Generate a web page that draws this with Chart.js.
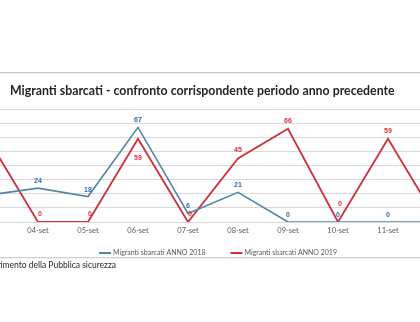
<!DOCTYPE html>
<html>
<head>
<meta charset="utf-8">
<script src="https://cdn.jsdelivr.net/npm/chart.js@4/dist/chart.umd.min.js"></script>
<style>
  html, body { margin:0; padding:0; background:#ffffff; overflow:hidden; width:420px; height:322px; }
  #wrap { position:absolute; left:-37px; top:0; width:500px; height:322px; }
</style>
</head>
<body>
<div id="wrap"><canvas id="c" width="500" height="322"></canvas></div>
<script>
const categories = ['03-set','04-set','05-set','06-set','07-set','08-set','09-set','10-set','11-set','12-set'];
const anno2018 = [19, 24, 18, 67, 6, 21, 0, 0, 0, 0];
const anno2019 = [59, 0, 0, 59, 0, 45, 66, 0, 59, 0];
const yTicks = { min: 0, max: 80, step: 10 };
const titleText = 'Migranti sbarcati - confronto corrispondente periodo anno precedente';
const sourceText = 'Dipartimento della Pubblica sicurezza';
const seriesNames = ['Migranti sbarcati ANNO 2018', 'Migranti sbarcati ANNO 2019'];

const BLUE = '#4f86a8';
const RED = '#d12e3b';
const OFF = 37; // page x -> canvas x offset

const decor = {
  id: 'decor',
  beforeDraw(chart) {
    const ctx = chart.ctx;
    ctx.save();
    ctx.fillStyle = '#ffffff';
    ctx.fillRect(0, 0, chart.width, chart.height);
    ctx.fillStyle = '#c9c9c9';
    ctx.fillRect(0, 72, chart.width, 1);
    ctx.fillStyle = '#ececec';
    ctx.fillRect(0, 73, chart.width, 1);
    ctx.fillStyle = '#d2d2d2';
    ctx.fillRect(0, 257, chart.width, 1);
    ctx.fillStyle = '#efefef';
    ctx.fillRect(0, 258, chart.width, 1);
    ctx.restore();
  },
  afterDraw(chart) {
    const ctx = chart.ctx;
    ctx.save();
    ctx.fillStyle = '#262626';
    ctx.textBaseline = 'middle';
    ctx.textAlign = 'left';
    ctx.font = 'bold 13px Lato';
    const w13 = ctx.measureText(titleText).width;
    const size = 13 * 385 / w13;
    ctx.font = 'bold ' + size.toFixed(2) + 'px Lato';
    ctx.fillText(titleText, 10 + OFF, 91);

    ctx.font = '7px Lato';
    const t1 = ctx.measureText(seriesNames[0]).width;
    const t2 = ctx.measureText(seriesNames[1]).width;
    const lineW = 12, gap = 2, sep = 25;
    const total = lineW + gap + t1 + sep + lineW + gap + t2;
    let x = 218 + OFF - total / 2;
    const ly = 253;
    const cols = [BLUE, RED];
    const tw = [t1, t2];
    for (let i = 0; i < 2; i++) {
      ctx.strokeStyle = cols[i];
      ctx.lineWidth = 2;
      ctx.beginPath();
      ctx.moveTo(x, ly); ctx.lineTo(x + lineW, ly); ctx.stroke();
      x += lineW + gap;
      ctx.fillStyle = '#595959';
      ctx.fillText(seriesNames[i], x, ly);
      x += tw[i] + sep;
    }

    ctx.font = '8.5px Lato';
    ctx.fillStyle = '#262626';
    ctx.textAlign = 'right';
    ctx.fillText(sourceText, 116 + OFF, 265);
    ctx.restore();
  }
};

const dataLabels = {
  id: 'dataLabels',
  afterDatasetsDraw(chart) {
    const ctx = chart.ctx;
    ctx.save();
    ctx.font = 'bold 7px "Liberation Sans"';
    ctx.textAlign = 'center';
    ctx.textBaseline = 'middle';
    const d0 = chart.data.datasets[0].data;
    chart.data.datasets.forEach((ds, di) => {
      const meta = chart.getDatasetMeta(di);
      meta.data.forEach((pt, i) => {
        const v = ds.data[i];
        let dy;
        if (di === 1) {
          const other = d0[i];
          if (v > 0 && other > v && other - v < 15) dy = 19;
          else if (v === 0 && other === 0) dy = -18;
          else dy = -8;
        } else {
          dy = -7;
        }
        ctx.fillStyle = di === 0 ? '#2f6fa6' : '#e0303c';
        ctx.fillText(String(v), pt.x + (v === 0 && di === 1 ? 2 : 0), pt.y + dy);
      });
    });
    ctx.restore();
  }
};

new Chart(document.getElementById('c'), {
  type: 'line',
  data: {
    labels: categories,
    datasets: [
      { label: seriesNames[0], data: anno2018, borderColor: BLUE, borderWidth: 1.6, pointRadius: 0, tension: 0, fill: false },
      { label: seriesNames[1], data: anno2019, borderColor: RED, borderWidth: 1.8, pointRadius: 0, tension: 0, fill: false }
    ]
  },
  options: {
    responsive: false,
    animation: false,
    devicePixelRatio: 1,
    layout: { padding: { top: 109, bottom: 83, left: 0, right: 0 } },
    plugins: { legend: { display: false }, title: { display: false }, tooltip: { enabled: false } },
    scales: {
      x: {
        offset: true,
        grid: { display: false, drawTicks: false },
        border: { display: false },
        ticks: { color: '#595959', font: { family: 'Lato', size: 7.5 }, padding: 4, maxRotation: 0, autoSkip: false }
      },
      y: {
        min: yTicks.min, max: yTicks.max,
        ticks: { display: false, stepSize: yTicks.step },
        grid: { color: '#d9d9d9', drawTicks: false, lineWidth: 1 },
        border: { display: false }
      }
    }
  },
  plugins: [decor, dataLabels]
});
</script>
</body>
</html>
